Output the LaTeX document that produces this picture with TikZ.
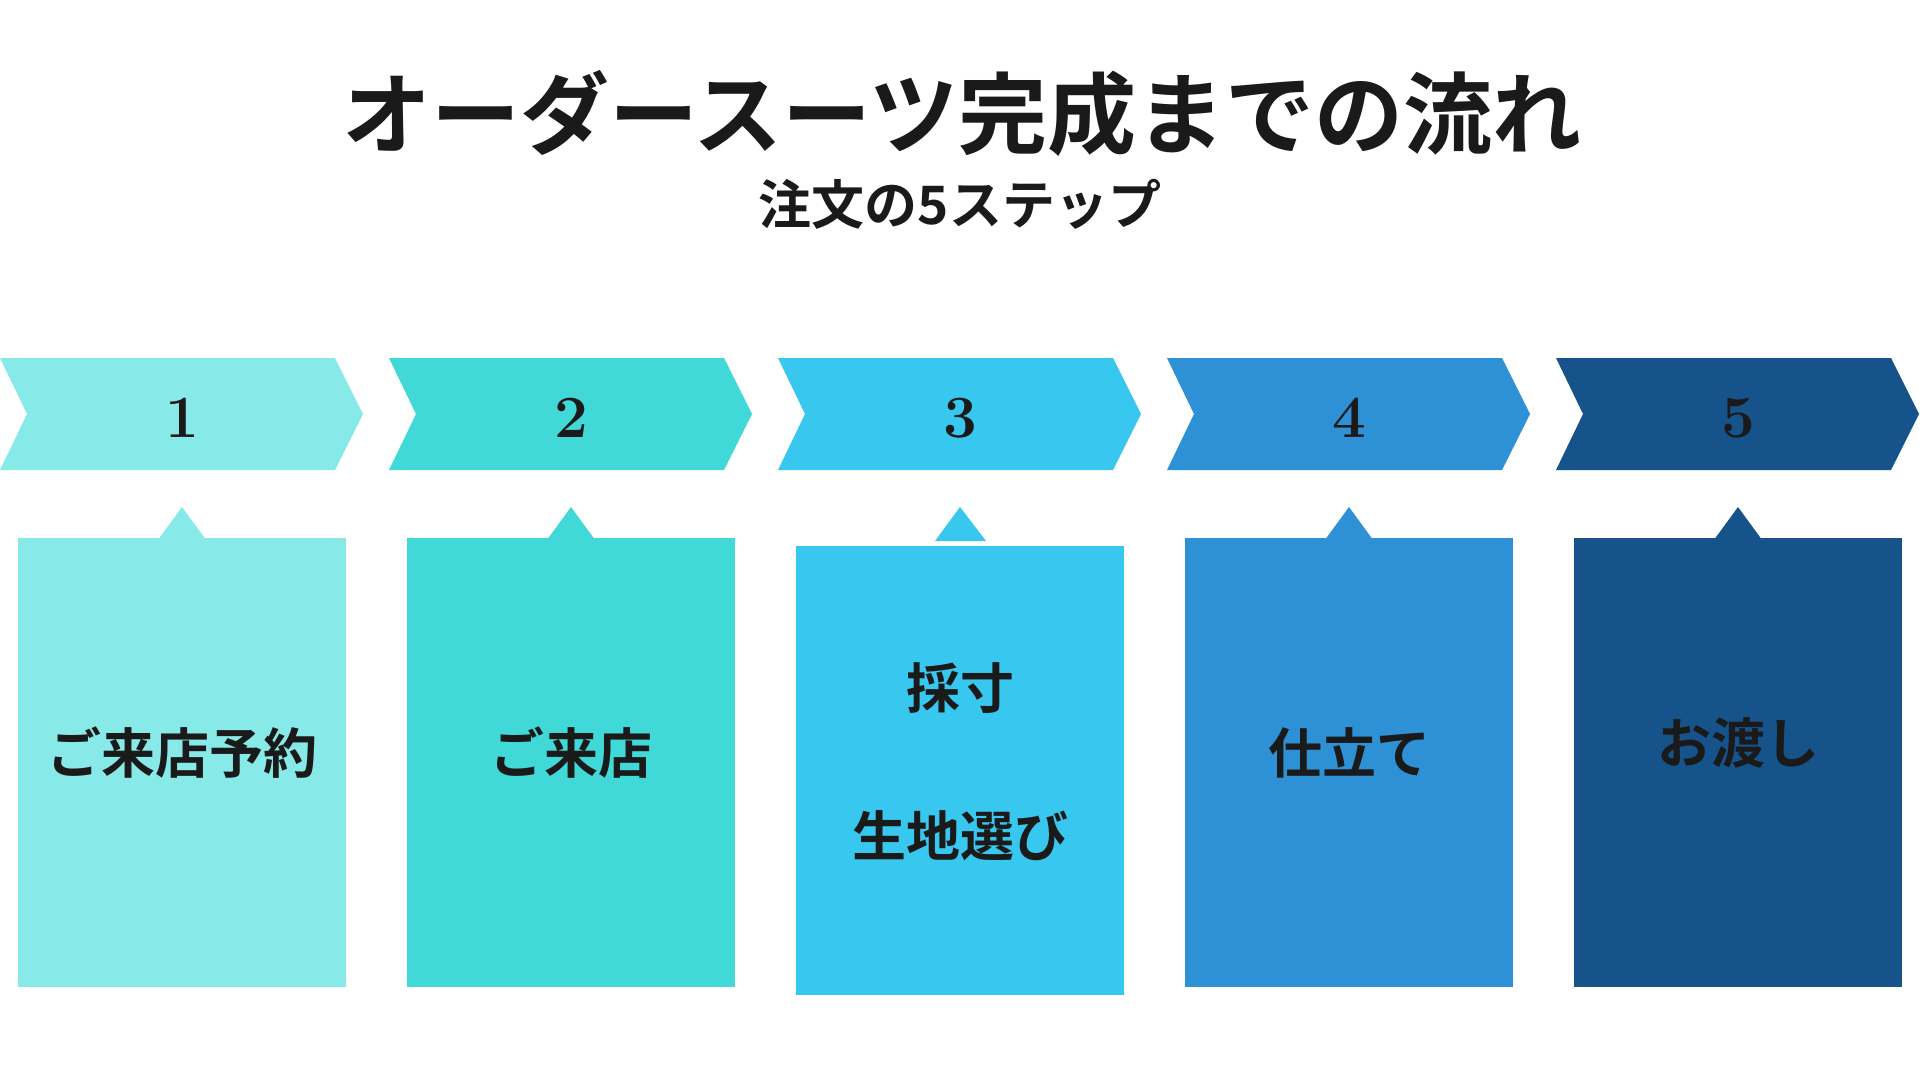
\documentclass[tikz,border=0pt]{standalone}
\usepackage{fontspec}
\newfontfamily\cjk{Noto Sans CJK JP Bold}
\definecolor{cA}{HTML}{88EAE8}
\definecolor{cB}{HTML}{40D9D8}
\definecolor{cC}{HTML}{38C7EF}
\definecolor{cD}{HTML}{2E91D5}
\definecolor{cE}{HTML}{16538A}
\definecolor{ink}{HTML}{1A1A1A}
\tikzset{
  numtxt/.style={text=ink, font=\fontsize{60}{62}\selectfont\bfseries, inner sep=0pt, anchor=center},
  boxtxt/.style={text=ink, font=\cjk\fontsize{54}{56}\selectfont, inner sep=0pt, anchor=center},
}
\begin{document}
\begin{tikzpicture}[x=1pt,y=-1pt]
\useasboundingbox (0,0) rectangle (1920,1080);
\fill[white] (0,0) rectangle (1920,1080);
\node[text=ink, font=\cjk\fontsize{89}{91}\selectfont, inner sep=0pt] (title) at (962,113) {オーダースーツ完成までの流れ};
\node[text=ink, font=\cjk\fontsize{53}{55}\selectfont, inner sep=0pt] (subtitle) at (960,204) {注文の5ステップ};
\foreach \k/\col in {1/cA,2/cB,3/cC,4/cD,5/cE}{
  \pgfmathsetmacro{\dx}{389*(\k-1)}
  \fill[\col] (\dx,358) -- (\dx+335,358) -- (\dx+363,414) -- (\dx+335,470) -- (\dx,470) -- (\dx+27,414) -- cycle;
  \node[numtxt] (num\k) at (\dx+182,418) {\k};
}
% boxes
\foreach \k/\col in {1/cA,2/cB,4/cD,5/cE}{
  \pgfmathsetmacro{\dx}{389*(\k-1)}
  \fill[\col] (\dx+18,538) rectangle (\dx+346,987);
  \fill[\col] (\dx+159,538.5) -- (\dx+182,507) -- (\dx+205,538.5) -- cycle;
}
\fill[cC] (796,546) rectangle (1124,995);
\fill[cC] (935,541) -- (960,507) -- (986,541) -- cycle;
\node[boxtxt] (t1) at (182,753) {ご来店予約};
\node[boxtxt] (t2) at (571,753) {ご来店};
\node[boxtxt] (t3a) at (960,688) {採寸};
\node[boxtxt] (t3b) at (960,836) {生地選び};
\node[boxtxt] (t4) at (1349,753) {仕立て};
\node[boxtxt] (t5) at (1738,743) {お渡し};
\end{tikzpicture}
\end{document}
